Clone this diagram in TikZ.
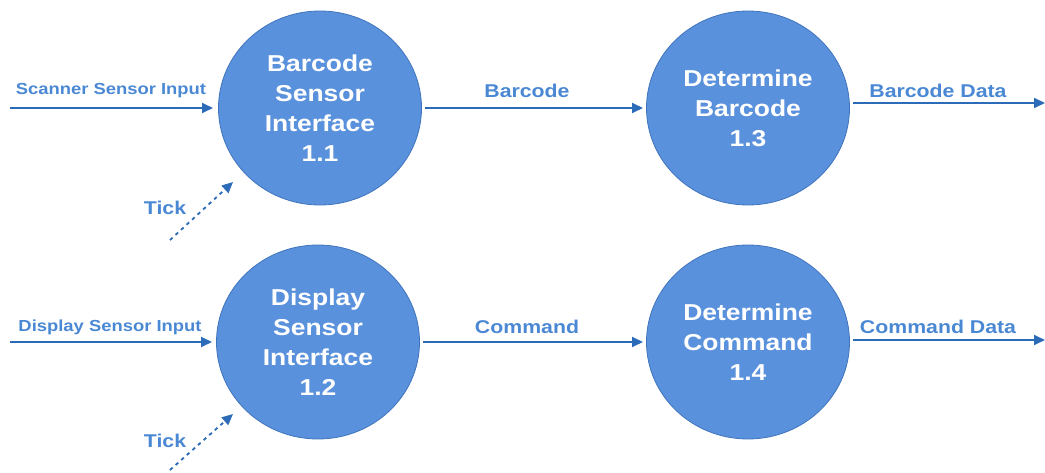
\documentclass[tikz,border=0pt]{standalone}
\usepackage{fontspec}
\setmainfont{Liberation Sans}
\newfontfamily\widesans[FakeStretch=1.15]{Liberation Sans}
\usetikzlibrary{arrows.meta,shapes.geometric}
\definecolor{circfill}{HTML}{5A91DC}
\definecolor{circdraw}{HTML}{3F74BC}
\definecolor{lblcol}{HTML}{4A88D4}
\definecolor{arrcol}{HTML}{2C6BB8}
\tikzset{
  proc/.style={ellipse, fill=circfill, draw=circdraw, line width=0.8pt, minimum width=203pt, minimum height=194pt, inner sep=0pt,
    text=white, font=\widesans\fontsize{23}{30}\selectfont\bfseries, align=center},
  flow/.style={draw=arrcol, line width=1.8pt, -{Triangle[length=11pt,width=10pt]}},
  tick/.style={draw=arrcol, line width=1.8pt, dash pattern=on 3.5pt off 4pt, -{Triangle[length=11pt,width=10pt]}},
  lbl/.style={text=lblcol, font=\widesans\fontsize{18.5}{20}\selectfont\bfseries, inner sep=0pt},
  slbl/.style={text=lblcol, font=\widesans\fontsize{16}{18}\selectfont\bfseries, inner sep=0pt},
}
\begin{document}
\begin{tikzpicture}[x=1pt,y=-1pt]
\useasboundingbox (0,0) rectangle (1045,473);
\node[proc] (p11) at (320,108) {Barcode\\Sensor\\Interface\\1.1};
\node[proc] (p13) at (748,108) {Determine\\Barcode\\1.3};
\node[proc] (p12) at (318,342) {Display\\Sensor\\Interface\\1.2};
\node[proc] (p14) at (748,342) {Determine\\Command\\1.4};
\coordinate (in1) at (10,108);
\coordinate (in2) at (10,342);
\coordinate (out1) at (1045,103);
\coordinate (out2) at (1045,340);
\coordinate (t1) at (170,240);
\coordinate (t2) at (170,470);
\coordinate (t1e) at (233,182);
\coordinate (t2e) at (233,414);
\draw[flow] (in1) -- (213,108) coordinate (in1e);
\draw[flow] (in2) -- (212,342) coordinate (in2e);
\draw[flow] (425,108) coordinate (b1) -- (643,108) coordinate (b2);
\draw[flow] (423,342) coordinate (c1) -- (643,342) coordinate (c2);
\draw[flow] (853,103) coordinate (d1) -- (out1);
\draw[flow] (853,340) coordinate (d2) -- (out2);
\draw[tick] (t1) -- (t1e);
\draw[tick] (t2) -- (t2e);
\node[slbl] (l1) at (111,91) {Scanner Sensor Input};
\node[slbl] (l2) at (110,327) {Display Sensor Input};
\node[lbl] (l3) at (527,91) {Barcode};
\node[lbl] (l4) at (527,327) {Command};
\node[lbl] (l5) at (938,91) {Barcode Data};
\node[lbl] (l6) at (938,327) {Command Data};
\node[lbl] (l7) at (165,208) {Tick};
\node[lbl] (l8) at (165,441) {Tick};
\end{tikzpicture}
\end{document}
